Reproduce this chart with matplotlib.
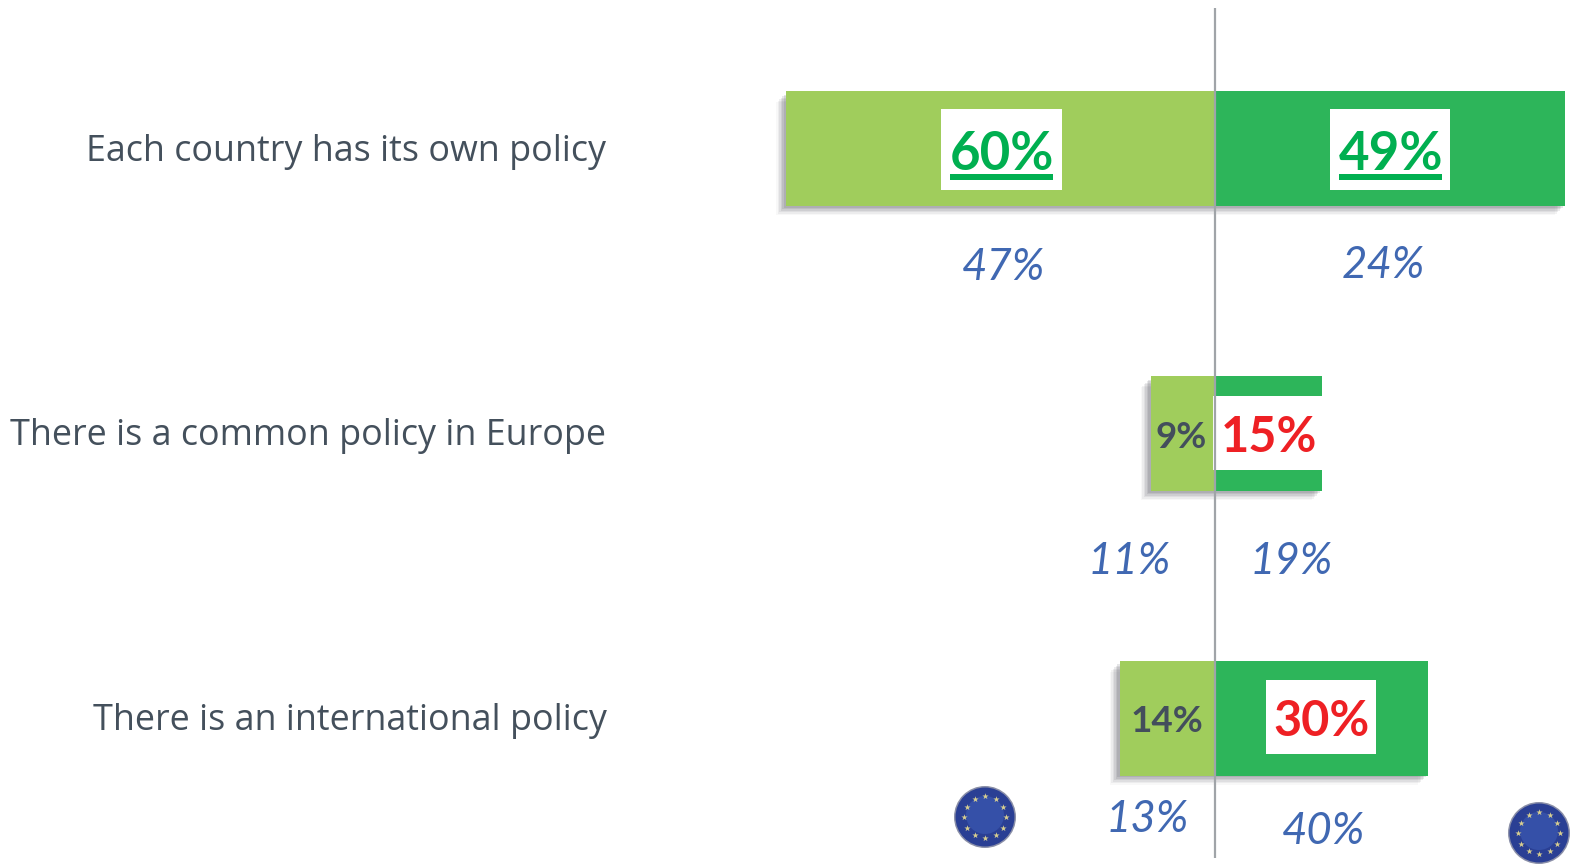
import numpy as np
import matplotlib
matplotlib.use('Agg')
import matplotlib.pyplot as plt
from matplotlib.patches import Circle, Rectangle
from matplotlib.transforms import ScaledTranslation

categories = ['Each country has its own policy', 'There is a common policy in Europe', 'There is an international policy']
# bar lengths as drawn in the picture, labels as printed on them
left_values = [60, 9, 13.3]
right_values = [49, 15, 29.8]
left_labels = ['60%', '9%', '14%']
right_labels = ['49%', '15%', '30%']
left_prev = ['47%', '11%', '13%']
right_prev = ['24%', '19%', '40%']

LIGHT = '#A0CD5C'
GREEN = '#2DB55A'
TXT_GREEN = '#00AF50'
RED = '#EE2024'
DARK = '#434E5C'
BLUE = '#4068B2'
GREY = '#44505C'

W, H = 1573, 864
CENTER = 1215
PX_PER_PCT = 7.15
row_y = [148.5, 433.5, 718]
BAR_H = 115

fig = plt.figure(figsize=(W / 100, H / 100), dpi=100)

# bars live on a percent axis, y stays in pixels
ax = fig.add_axes([0, 0, 1, 1])
ax.set_xlim(-CENTER / PX_PER_PCT, (W - CENTER) / PX_PER_PCT)
ax.set_ylim(H, 0)
ax.axis('off')

# soft shadow under the bars
for off, a in [(10, 0.04), (8.5, 0.07), (7, 0.09), (5.5, 0.11), (4, 0.13), (2.5, 0.15)]:
    dx = off / PX_PER_PCT
    shift = ax.transData + ScaledTranslation(0, -off / 100, fig.dpi_scale_trans)
    ax.barh(row_y, [v + dx for v in left_values], left=[-v - dx for v in left_values], height=BAR_H - 2,
            color='#555560', alpha=a, lw=0, zorder=1, transform=shift)
    ax.barh(row_y, [v - dx for v in right_values], height=BAR_H - 2,
            color='#555560', alpha=a, lw=0, zorder=1, transform=shift)

ax.barh(row_y, [-v for v in left_values], height=BAR_H, color=LIGHT, lw=0, zorder=2)
ax.barh(row_y, right_values, height=BAR_H, color=GREEN, lw=0, zorder=2)

# everything else in reference pixels
px = fig.add_axes([0, 0, 1, 1], zorder=5)
px.set_xlim(0, W)
px.set_ylim(H, 0)
px.axis('off')
px.patch.set_alpha(0)

# white boxes behind the main numbers
for x0, x1, y0, y1 in [(941, 1062, 109, 190), (1330, 1450, 109, 190), (1213, 1322, 396, 470), (1266, 1376, 680, 754)]:
    px.add_patch(Rectangle((x0, y0), x1 - x0, y1 - y0, color='white', lw=0, zorder=1))

px.plot([CENTER, CENTER], [8, 858], color='#A0A4A8', lw=1.6, zorder=2, solid_capstyle='butt')

FONT = 'Open Sans'
NUM = 'Lato'

for name, y in zip(categories, row_y):
    px.text(606.5, y + 3, name, ha='right', va='center', fontsize=25.8, color=GREY, family=FONT, zorder=3)

main_fs = 38
px.text(1002, 155, left_labels[0], ha='center', va='center', fontsize=main_fs, fontweight='bold', color=TXT_GREEN, family=NUM, zorder=3)
px.text(1391, 155, right_labels[0], ha='center', va='center', fontsize=main_fs, fontweight='bold', color=TXT_GREEN, family=NUM, zorder=3)
px.add_patch(Rectangle((950, 174), 103, 6, color=TXT_GREEN, lw=0, zorder=3))
px.add_patch(Rectangle((1339, 174), 103, 6, color=TXT_GREEN, lw=0, zorder=3))

px.text(1181, 437, left_labels[1], ha='center', va='center', fontsize=26.5, fontweight='bold', color=DARK, family=NUM, zorder=3)
px.text(1269, 438, right_labels[1], ha='center', va='center', fontsize=35, fontweight='bold', color=RED, family=NUM, zorder=3)
px.text(1167, 722, left_labels[2], ha='center', va='center', fontsize=26.5, fontweight='bold', color=DARK, family=NUM, zorder=3)
px.text(1322, 722, right_labels[2], ha='center', va='center', fontsize=35, fontweight='bold', color=RED, family=NUM, zorder=3)

for lab, x, y in zip(left_prev + right_prev, [1003, 1129, 1147, 1383, 1291, 1323], [267, 561, 820, 265, 561, 832]):
    px.text(x, y, lab, ha='center', va='center', fontsize=31.5, style='italic', color=BLUE, family=NUM, zorder=3)

# EU badges
ang = np.deg2rad(np.arange(0, 360, 30))
for cx, cy in [(985, 817), (1539, 833)]:
    px.add_patch(Circle((cx, cy), 31, color='#8A8FA8', lw=0, zorder=3))
    px.add_patch(Circle((cx, cy), 29.5, color='#2A3F94', lw=0, zorder=3))
    px.add_patch(Circle((cx, cy - 2), 19, color='#3550A8', lw=0, zorder=3))
    px.scatter(cx + 21 * np.cos(ang), cy + 21 * np.sin(ang), s=22, marker='*', color='#D8CF90', lw=0, zorder=4)

fig.savefig('out.png', dpi=100, facecolor='white')
